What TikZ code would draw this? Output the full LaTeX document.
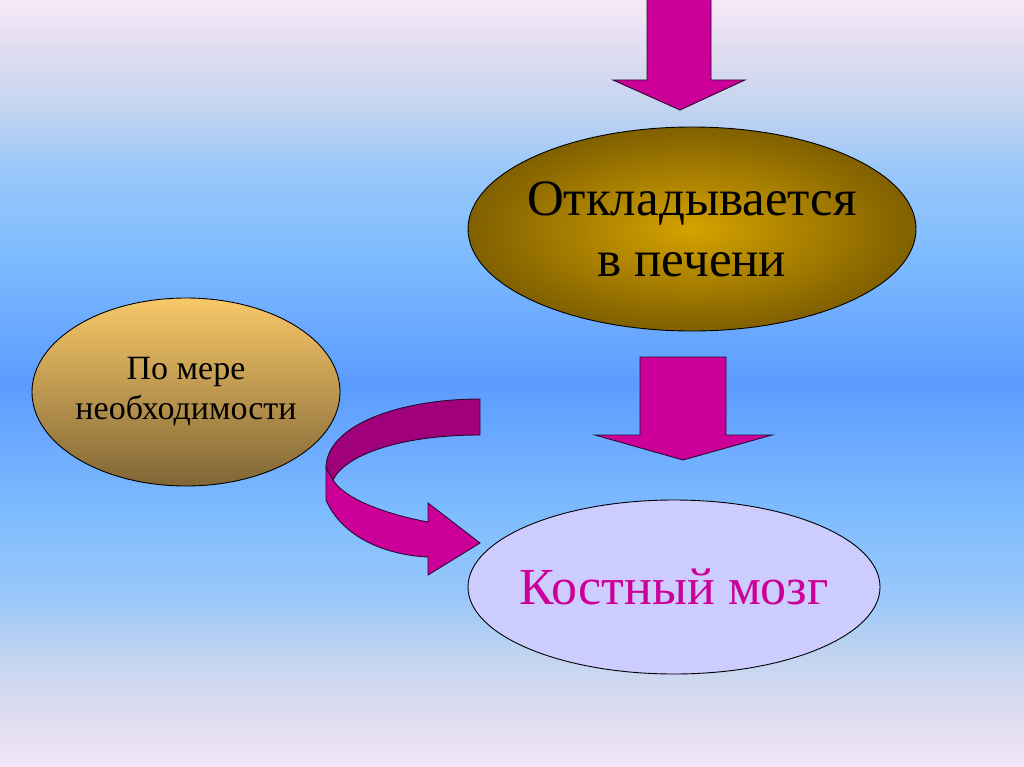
\documentclass[tikz,border=0pt]{standalone}
\usepackage{fontspec}
\setmainfont{Liberation Serif}
\usetikzlibrary{shapes.geometric}
\definecolor{arrowmag}{RGB}{204,0,153}
\definecolor{arrowdark}{RGB}{160,0,122}
\definecolor{edgecol}{RGB}{40,10,50}
\definecolor{lavender}{RGB}{204,204,255}
\definecolor{goldc}{RGB}{212,162,0}
\definecolor{goldd}{RGB}{128,96,0}
\definecolor{ochreT}{RGB}{248,200,104}
\definecolor{ochreB}{RGB}{128,102,54}
\pgfdeclareverticalshading{bgshade}{100bp}{%
rgb(0bp)=(0.95,0.90,0.97);
rgb(25bp)=(0.95,0.90,0.97);
rgb(28.9bp)=(0.86,0.86,0.94);
rgb(32.2bp)=(0.76,0.83,0.94);
rgb(36.1bp)=(0.60,0.78,0.98);
rgb(41.3bp)=(0.50,0.74,1);
rgb(50bp)=(0.36,0.61,1);
rgb(58.7bp)=(0.50,0.74,1);
rgb(63.9bp)=(0.60,0.78,0.98);
rgb(67.8bp)=(0.76,0.83,0.94);
rgb(71.1bp)=(0.86,0.86,0.94);
rgb(75bp)=(0.97,0.91,0.97);
rgb(100bp)=(0.97,0.91,0.97)}
\tikzset{
  blob/.style={ellipse, draw=black, line width=0.9pt, inner sep=0pt},
  blobtext/.style={align=center, inner sep=0pt},
  blockarrow/.style={fill=arrowmag, draw=edgecol, line width=0.9pt, line join=miter},
}
\begin{document}
\begin{tikzpicture}[x=1pt,y=1pt]
\useasboundingbox (0,0) rectangle (1024,-767);
\shade[shading=bgshade] (0,0) rectangle (1024,-767);

% top arrow
\draw[blockarrow] (647,2) -- (647,-80) -- (613,-80) -- (680,-110) -- (745,-80) -- (711,-80) -- (711,2);

% top ellipse
\node[blob, minimum width=448pt, minimum height=204pt, inner color=goldc, outer color=goldd] (liver) at (692,-229) {};
\node[blobtext, font=\fontsize{51}{61}\selectfont] (livertext) at (liver.center) {Откладывается\\в печени};

% middle arrow
\draw[blockarrow] (640,-357) -- (640,-435) -- (595,-435) -- (683,-460) -- (772,-435) -- (726,-435) -- (726,-357) -- cycle;

% left ellipse
\node[blob, minimum width=308pt, minimum height=188pt, top color=ochreT, bottom color=ochreB] (need) at (186,-392) {};
\node[blobtext, font=\fontsize{34}{40}\selectfont] (needtext) at (need.center) {По мере\\необходимости};

% bottom ellipse
\node[blob, minimum width=412pt, minimum height=174pt, fill=lavender] (marrow) at (674,-587) {};
\node[blobtext, text=arrowmag, font=\fontsize{52}{60}\selectfont] (marrowtext) at (marrow.center) {Костный мозг};

% curved arrow: dark upper band
\draw[fill=arrowdark, draw=edgecol, line width=0.9pt, line join=round]
  (480,-399) .. controls (400,-399) and (326,-425) .. (326,-468)
  -- (333,-480) .. controls (345,-455) and (400,-435) .. (480,-435) -- cycle;
% curved arrow: lighter lower band with head
\draw[fill=arrowmag, draw=edgecol, line width=0.9pt, line join=miter]
  (326,-468) -- (326,-500) .. controls (342,-537) and (385,-555) .. (428,-557)
  -- (428,-575) -- (480,-543) -- (428,-503) -- (428,-522)
  .. controls (390,-515) and (345,-500) .. (333,-480) -- cycle;
\end{tikzpicture}
\end{document}
